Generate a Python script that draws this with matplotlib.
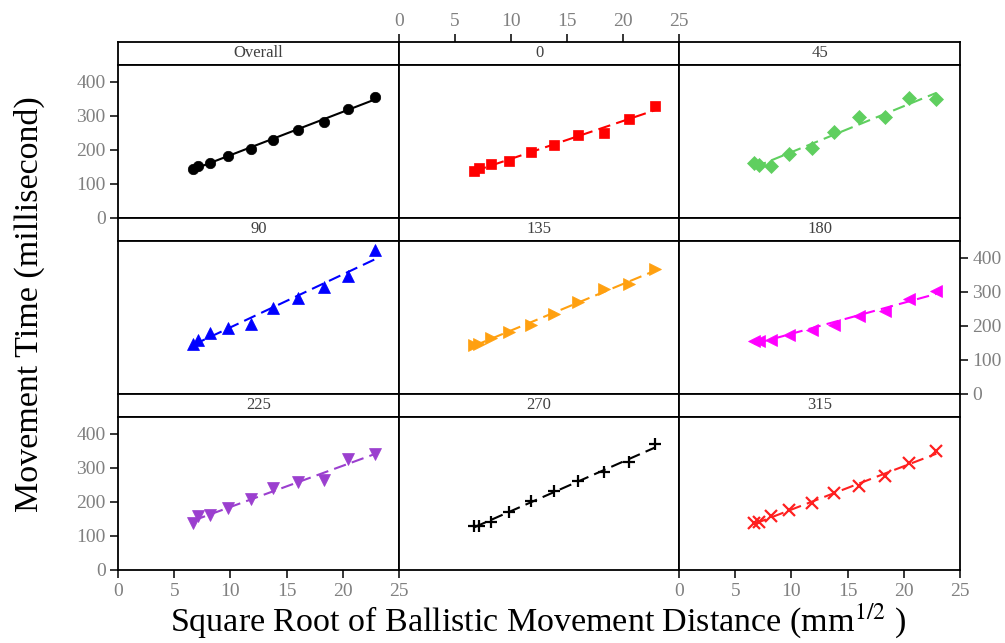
import numpy as np
import matplotlib
matplotlib.use("Agg")
import matplotlib.pyplot as plt

plt.rcParams['font.family'] = ['Liberation Serif', 'DejaVu Serif']
plt.rcParams['mathtext.fontset'] = 'stix'

# ---- data ----
sqrt_dist = [6.7, 7.1, 8.2, 9.8, 11.8, 13.8, 16.0, 18.3, 20.5, 22.9]
panel_names = ["Overall", "0", "45", "90", "135", "180", "225", "270", "315"]
mt_overall = [145, 152, 162, 181, 203, 230, 259, 280, 321, 355]
mt_0 = [137, 146, 157, 167, 193, 214, 244, 248, 290, 328]
mt_45 = [161, 154, 152, 188, 205, 251, 297, 295, 353, 348]
mt_90 = [148, 158, 178, 193, 205, 251, 282, 314, 347, 422]
mt_135 = [144, 148, 163, 183, 203, 234, 269, 309, 322, 365]
mt_180 = [155, 156, 158, 173, 188, 203, 228, 243, 278, 302]
mt_225 = [137, 157, 162, 182, 208, 240, 257, 265, 324, 340]
mt_270 = [129, 129, 142, 170, 201, 233, 260, 287, 317, 368]
mt_315 = [137, 142, 157, 176, 196, 226, 245, 276, 314, 348]
x_ticks = [0, 5, 10, 15, 20, 25]
y_ticks = [0, 100, 200, 300, 400]

series = [mt_overall, mt_0, mt_45, mt_90, mt_135, mt_180, mt_225, mt_270, mt_315]
colors = ['black', '#FF0000', '#5FCF5F', '#0000FF', '#FFA010', '#FF00FF',
          '#9B3FCF', 'black', '#FF2020']
markers = ['o', 's', 'D', '^', '>', '<', 'v', '+', 'x']
msizes = [7.5, 7.5, 7.5, 8.5, 8.5, 8.5, 8.5, 9, 8]
styles = ['-', '--', '--', '--', '--', '--', '--', '--', '--']

W, H = 1005, 643
fig = plt.figure(figsize=(W / 100, H / 100), dpi=100)

col_edges = [118, 399, 679, 960]
top = 42
strip_h = 22.5
panel_h = 153.5
tick_col = '#808080'
FS = 14

def fx(x):
    return x / W

def fy(y):
    return 1 - y / H

for i, name in enumerate(panel_names):
    r, c = divmod(i, 3)
    x0, x1 = col_edges[c], col_edges[c + 1]
    s_top = top + r * (strip_h + panel_h)
    p_top = s_top + strip_h
    p_bot = p_top + panel_h
    # strip
    sax = fig.add_axes([fx(x0), fy(p_top), fx(x1) - fx(x0), fy(s_top) - fy(p_top)])
    sax.set_xlim(0, 25)
    sax.set_ylim(0, 1)
    sax.set_yticks([])
    for sp in sax.spines.values():
        sp.set_linewidth(1.3)
    sax.text(12.5, 0.5, name, ha='center', va='center', fontsize=12, color='#404040')
    if r == 0 and c == 1:
        sax.xaxis.tick_top()
        sax.set_xticks(x_ticks)
        sax.set_xticklabels([str(t) for t in x_ticks])
        sax.tick_params(axis='x', direction='out', length=6, width=1.1,
                        labelsize=FS, labelcolor=tick_col, pad=3)
    else:
        sax.set_xticks([])
    # panel
    ax = fig.add_axes([fx(x0), fy(p_bot), fx(x1) - fx(x0), fy(p_top) - fy(p_bot)])
    ax.set_xlim(0, 25)
    ax.set_ylim(0, 450)
    for sp in ax.spines.values():
        sp.set_linewidth(1.3)
    y = np.array(series[i], dtype=float)
    xv = np.array(sqrt_dist, dtype=float)
    b, a = np.polyfit(xv, y, 1)
    xl = np.array([xv.min(), xv.max()])
    ax.plot(xl, a + b * xl, linestyle=styles[i], color=colors[i], lw=1.5,
            dashes=(6, 3) if styles[i] == '--' else (None, None), zorder=2)
    mew = 1.6 if markers[i] in ('+', 'x') else 0.5
    ax.plot(xv, y, linestyle='none', marker=markers[i], color=colors[i],
            markersize=msizes[i], markeredgewidth=mew, zorder=3)
    # x axis
    if r == 2 and c in (0, 2):
        ax.set_xticks(x_ticks)
        ax.set_xticklabels([str(t) for t in x_ticks])
        ax.tick_params(axis='x', direction='out', length=6, width=1.1,
                       labelsize=FS, labelcolor=tick_col, pad=3)
    else:
        ax.set_xticks([])
    # y axis
    if c == 0 and r in (0, 2):
        ax.set_yticks(y_ticks)
        ax.set_yticklabels([str(t) for t in y_ticks])
        ax.tick_params(axis='y', direction='out', length=6, width=1.1,
                       labelsize=FS, labelcolor=tick_col, pad=3)
    elif c == 2 and r == 1:
        ax.yaxis.tick_right()
        ax.set_yticks(y_ticks)
        ax.set_yticklabels([str(t) for t in y_ticks])
        ax.tick_params(axis='y', direction='out', length=6, width=1.1,
                       labelsize=FS, labelcolor=tick_col, pad=3)
    else:
        ax.set_yticks([])

fig.text(fx(29), fy(304), 'Movement Time (millisecond)', rotation=90,
         ha='center', va='center', fontsize=24.5, color='black')
fig.text(fx(538), fy(621), 'Square Root of Ballistic Movement Distance (mm$^{1/2}$ )',
         ha='center', va='center', fontsize=24.5, color='black')

fig.savefig('out.png', dpi=100)
